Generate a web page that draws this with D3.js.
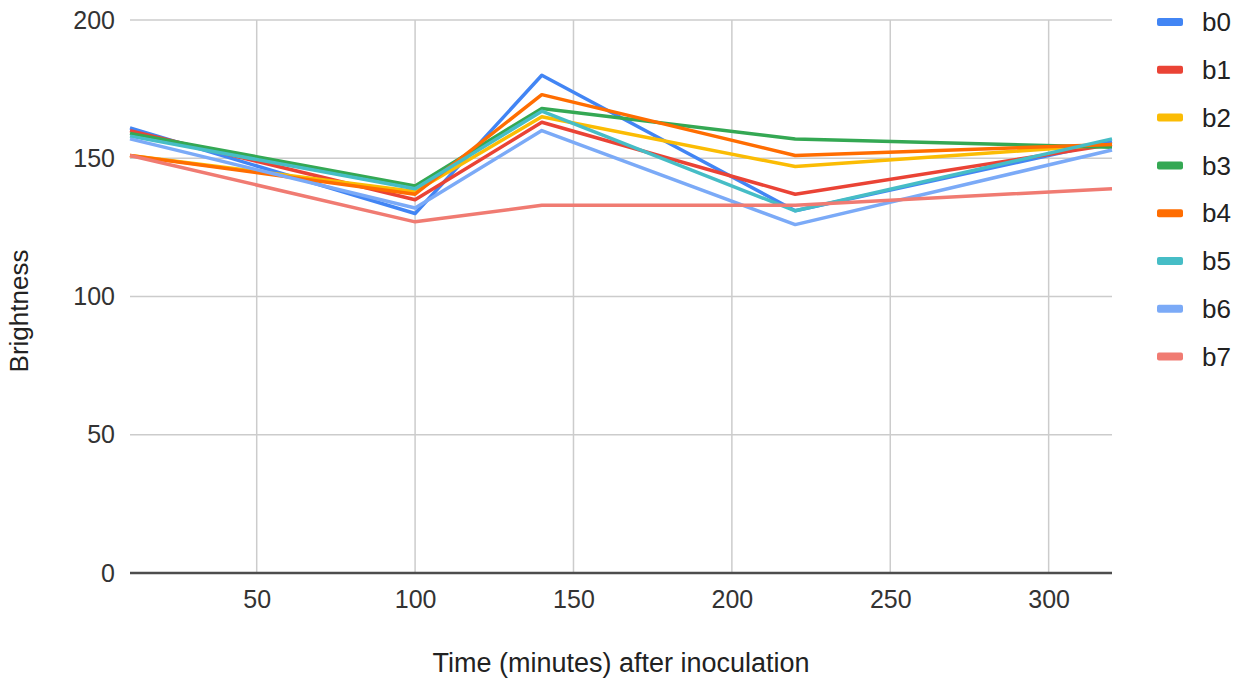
<!DOCTYPE html>
<html>
<head>
<meta charset="utf-8">
<script src="https://cdn.jsdelivr.net/npm/d3@7/dist/d3.min.js"></script>
<style>
  html, body { margin: 0; padding: 0; background: #fff; }
  svg { display: block; font-family: "Liberation Sans", Arial, sans-serif; }
</style>
</head>
<body>
<svg id="chart" width="1241" height="679"></svg>
<script>
const times = [10, 100, 140, 220, 320];
const seriesNames = ["b0", "b1", "b2", "b3", "b4", "b5", "b6", "b7"];
const b0 = [161, 130, 180, 131, 156];
const b1 = [160, 135, 163, 137, 155];
const b2 = [151, 138, 165, 147, 155];
const b3 = [159, 140, 168, 157, 154];
const b4 = [151, 137, 173, 151, 155];
const b5 = [158, 139, 167, 131, 157];
const b6 = [157, 132, 160, 126, 153];
const b7 = [151, 127, 133, 133, 139];
const seriesValues = [b0, b1, b2, b3, b4, b5, b6, b7];
const colors = ["#4285F4", "#EA4335", "#FBBC04", "#34A853", "#FF6D01", "#46BDC6", "#7BAAF7", "#F07B72"];
const xTicks = [50, 100, 150, 200, 250, 300];
const yTicks = [0, 50, 100, 150, 200];
const xTitle = "Time (minutes) after inoculation";
const yTitle = "Brightness";

(function () {
const svg = d3.select("#chart");
const pL = 130, pR = 1112, pT = 20, pB = 573;
const x = d3.scaleLinear().domain([10, 320]).range([pL, pR]);
const y = d3.scaleLinear().domain([0, 200]).range([pB, pT]);

// gridlines
svg.append("g").selectAll("line").data(yTicks.filter(d => d > 0)).join("line")
  .attr("x1", pL).attr("x2", pR)
  .attr("y1", d => y(d)).attr("y2", d => y(d))
  .attr("stroke", "#cccccc").attr("stroke-width", 1.5);
svg.append("g").selectAll("line").data(xTicks).join("line")
  .attr("x1", d => x(d)).attr("x2", d => x(d))
  .attr("y1", pT).attr("y2", pB)
  .attr("stroke", "#cccccc").attr("stroke-width", 1.5);

// y tick labels
const yAxis = d3.axisLeft(y).tickValues(yTicks).tickSize(0).tickPadding(15);
const gy = svg.append("g").attr("transform", `translate(${pL},0)`).call(yAxis);
gy.select(".domain").remove();
gy.selectAll("text").attr("font-size", 25).attr("fill", "#333").attr("font-family", "Liberation Sans, Arial, sans-serif");

// x tick labels
const xAxis = d3.axisBottom(x).tickValues(xTicks).tickSize(0).tickPadding(17);
const gx = svg.append("g").attr("transform", `translate(0,${pB})`).call(xAxis);
gx.select(".domain").remove();
gx.selectAll("text").attr("font-size", 25).attr("fill", "#333").attr("font-family", "Liberation Sans, Arial, sans-serif");

// baseline
svg.append("line").attr("x1", pL).attr("x2", pR)
  .attr("y1", y(0)).attr("y2", y(0))
  .attr("stroke", "#4d4d4d").attr("stroke-width", 2.5);

// lines
const line = d3.line().x((d, i) => x(times[i])).y(d => y(d));
svg.append("g").selectAll("path").data(seriesValues).join("path")
  .attr("d", d => line(d))
  .attr("fill", "none")
  .attr("stroke", (d, i) => colors[i])
  .attr("stroke-width", 3.5)
  .attr("stroke-linejoin", "round");

// axis titles
svg.append("text").attr("x", (pL + pR) / 2).attr("y", 672)
  .attr("text-anchor", "middle").attr("font-size", 27).attr("fill", "#222")
  .text(xTitle);
svg.append("text").attr("transform", `translate(28,311) rotate(-90)`)
  .attr("text-anchor", "middle").attr("font-size", 26).attr("fill", "#222")
  .text(yTitle);

// legend
const lg = svg.append("g").selectAll("g").data(seriesNames).join("g")
  .attr("transform", (d, i) => `translate(1157,${22 + i * 47.8})`);
lg.append("rect").attr("x", 0).attr("y", -4).attr("width", 26).attr("height", 8)
  .attr("rx", 2).attr("fill", (d, i) => colors[i]);
lg.append("text").attr("x", 45).attr("y", 0).attr("dy", "0.35em")
  .attr("font-size", 26).attr("fill", "#222").text(d => d);
})();
</script>
</body>
</html>
